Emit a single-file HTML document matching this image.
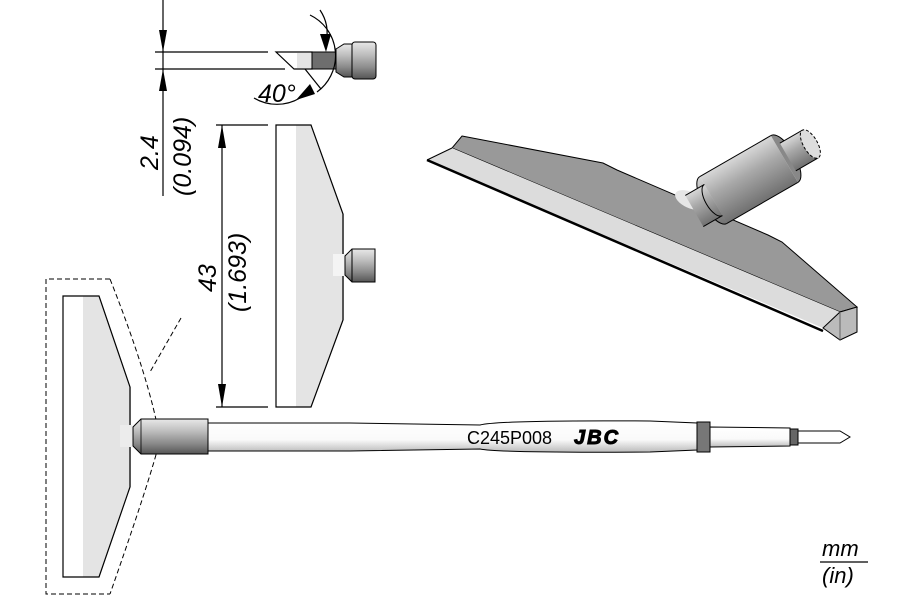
<!DOCTYPE html>
<html><head><meta charset="utf-8"><style>
html,body{margin:0;padding:0;background:#fff;}
svg{display:block;font-family:"Liberation Sans",sans-serif;}
</style></head><body>
<svg width="900" height="600" viewBox="0 0 900 600" xmlns="http://www.w3.org/2000/svg">
<defs>
<linearGradient id="cylV" x1="0" y1="0" x2="0" y2="1">
<stop offset="0" stop-color="#e8e8e8"/><stop offset="0.35" stop-color="#bdbdbd"/><stop offset="0.7" stop-color="#8a8a8a"/><stop offset="1" stop-color="#555"/></linearGradient>
<linearGradient id="tubeV" x1="0" y1="0" x2="0" y2="1">
<stop offset="0" stop-color="#fff"/><stop offset="0.6" stop-color="#fafafa"/><stop offset="1" stop-color="#bbb"/></linearGradient>
<linearGradient id="cyl3" x1="0" y1="0" x2="0" y2="1">
<stop offset="0" stop-color="#d8d8d8"/><stop offset="0.4" stop-color="#a8a8a8"/><stop offset="1" stop-color="#707070"/></linearGradient>
</defs>

<g stroke="#000" stroke-width="1.2" fill="none">
<line x1="163" y1="0" x2="163" y2="196"/>
<line x1="155" y1="52" x2="268" y2="52"/>
<line x1="155" y1="69" x2="285" y2="69"/>
</g>
<polygon points="163,52 159,30 167,30" fill="#000"/>
<polygon points="163,69 159,91 167,91" fill="#000"/>
<text transform="translate(158,170) rotate(-90)" font-size="25" font-style="italic">2.4</text>
<text transform="translate(191,196) rotate(-90)" font-size="25" font-style="italic">(0.094)</text>

<polygon points="276,52 312,52 312,69 294,69" fill="#fff" stroke="#000" stroke-width="1.2"/>
<rect x="297" y="53" width="15" height="15" fill="#e4e4e4"/>
<rect x="312" y="52" width="30" height="17" fill="#6e6e6e" stroke="#000" stroke-width="1"/>
<path d="M336,49 L344,44 L352,44 L352,77 L344,77 L336,72 Z" fill="url(#cylV)" stroke="#000" stroke-width="1"/>
<rect x="352" y="42" width="24" height="37" rx="3" fill="url(#cylV)" stroke="#000" stroke-width="1"/>
<path d="M310,15 A45,45 0 0 1 317,92 M300,98 A45,45 0 0 1 254,98" fill="none" stroke="#000" stroke-width="1.2"/>
<path d="M320,10 Q330,25 326,42" fill="none" stroke="#000" stroke-width="1.2"/>
<polygon points="326,52 320,34 331,34" fill="#000"/>
<line x1="305" y1="69" x2="321" y2="89" stroke="#000" stroke-width="1.2"/>
<polygon points="296,100 310,84 315,94" fill="#000"/>
<text x="258" y="102" font-size="25" font-style="italic">40°</text>

<g stroke="#000" stroke-width="1.2" fill="none">
<line x1="222" y1="125" x2="222" y2="407"/>
<line x1="216" y1="125" x2="268" y2="125"/>
<line x1="216" y1="407" x2="268" y2="407"/>
</g>
<polygon points="222,125 218,148 226,148" fill="#000"/>
<polygon points="222,407 218,384 226,384" fill="#000"/>
<text transform="translate(216,292) rotate(-90)" font-size="25" font-style="italic">43</text>
<text transform="translate(246,312) rotate(-90)" font-size="25" font-style="italic">(1.693)</text>

<polygon points="296,125 311,125 343,214 343,320 311,407 296,407" fill="#e4e4e4"/>
<polygon points="276,125 311,125 343,214 343,320 311,407 276,407" fill="none" stroke="#000" stroke-width="1.2"/>
<line x1="343" y1="214" x2="343" y2="320" stroke="#555" stroke-width="2"/>
<rect x="333" y="254" width="12" height="22" fill="#f4f4f4"/>
<path d="M345,256 L352,249 L375,249 L375,282 L352,282 L345,275 Z" fill="url(#cylV)" stroke="#000" stroke-width="1"/>
<line x1="352" y1="249" x2="352" y2="282" stroke="#000" stroke-width="1"/>

<polygon points="83,296 99,296 130,387 130,487 99,577 83,577" fill="#e4e4e4"/>
<polygon points="63,296 99,296 130,387 130,487 99,577 63,577" fill="none" stroke="#000" stroke-width="1.2"/>
<line x1="130" y1="387" x2="130" y2="487" stroke="#555" stroke-width="2"/>
<g stroke="#000" stroke-width="1" fill="none" stroke-dasharray="5,3">
<path d="M110,279 L46,279 L46,594 L110,594"/>
<path d="M110,279 Q150,380 160,440 Q150,480 110,594"/>
<path d="M181,318 L150,372"/>
</g>

<rect x="120" y="425" width="12" height="22" fill="#ececec"/>
<path d="M133,427 L141,419 L208,419 L208,454 L141,454 L133,446 Z" fill="url(#cylV)" stroke="#000" stroke-width="1"/>
<line x1="141" y1="419" x2="141" y2="454" stroke="#000" stroke-width="0.8"/>
<path d="M208,423 L350,423 Q420,424 480,425 Q500,420 650,421 L697,423 L697,450 L650,452 Q500,453 480,449 Q420,450 350,451 L208,451 Z" fill="url(#tubeV)" stroke="#000" stroke-width="1"/>
<rect x="697" y="422" width="13" height="30" fill="#777" stroke="#000" stroke-width="1"/>
<path d="M710,427 L790,428 L790,446 L710,447 Z" fill="url(#tubeV)" stroke="#000" stroke-width="1"/>
<rect x="790" y="429" width="8" height="16" fill="#666" stroke="#000" stroke-width="1"/>
<path d="M798,431 L840,431 L850,437 L840,443 L798,443 Z" fill="#fff" stroke="#000" stroke-width="1"/>
<text x="467" y="444" font-size="18">C245P008</text>
<text x="574" y="444" font-size="20" font-weight="900" font-style="italic" letter-spacing="2" stroke="#000" stroke-width="1">JBC</text>

<polygon points="462,136 603,163 617,170 768,235 782,242 857,307 840,312 452,148" fill="#999" stroke="#000" stroke-width="1"/>
<polygon points="427,160 452,148 840,312 823,328" fill="#dcdcdc"/>
<line x1="427" y1="160" x2="452" y2="148" stroke="#000" stroke-width="1"/>
<polygon points="823,328 840,312 857,307 857,332 840,340" fill="#bbb" stroke="#000" stroke-width="1"/>
<line x1="840" y1="312" x2="840" y2="340" stroke="#666" stroke-width="1"/>
<line x1="427" y1="160" x2="823" y2="331" stroke="#000" stroke-width="2.5"/>
<ellipse cx="690" cy="200" rx="16" ry="8" fill="#e6e6e6" transform="rotate(25 690 200)"/>
<g transform="translate(748,180) rotate(-30)">
<rect x="-40" y="-27" width="82" height="54" fill="url(#cyl3)"/>
<line x1="-40" y1="-27" x2="42" y2="-27" stroke="#000"/>
<line x1="-40" y1="27" x2="42" y2="27" stroke="#000"/>
<path d="M-40,-27 A11,27 0 0 0 -40,27" fill="url(#cyl3)" stroke="#000" stroke-width="1"/>
<path d="M42,-27 A11,27 0 0 1 42,27" fill="#888" stroke="#000" stroke-width="1"/>
<rect x="-62" y="-18" width="22" height="36" fill="url(#cyl3)"/>
<line x1="-62" y1="-18" x2="-40" y2="-18" stroke="#000"/>
<line x1="-62" y1="18" x2="-40" y2="18" stroke="#000"/>
<path d="M-40,-18 A8,18 0 0 0 -40,18" fill="url(#cyl3)" stroke="#000" stroke-width="1"/>
<rect x="46" y="-16" width="26" height="32" fill="url(#cyl3)"/>
<line x1="46" y1="-16" x2="72" y2="-16" stroke="#000"/>
<line x1="46" y1="16" x2="72" y2="16" stroke="#000"/>
<ellipse cx="72" cy="0" rx="7" ry="16" fill="#ddd" stroke="#000" stroke-width="1" stroke-dasharray="3,2"/>
</g>

<text x="822" y="556" font-size="22" font-style="italic">mm</text>
<line x1="820" y1="562" x2="868" y2="562" stroke="#000" stroke-width="1.2"/>
<text x="822" y="583" font-size="22" font-style="italic">(in)</text>
</svg>
</body></html>
